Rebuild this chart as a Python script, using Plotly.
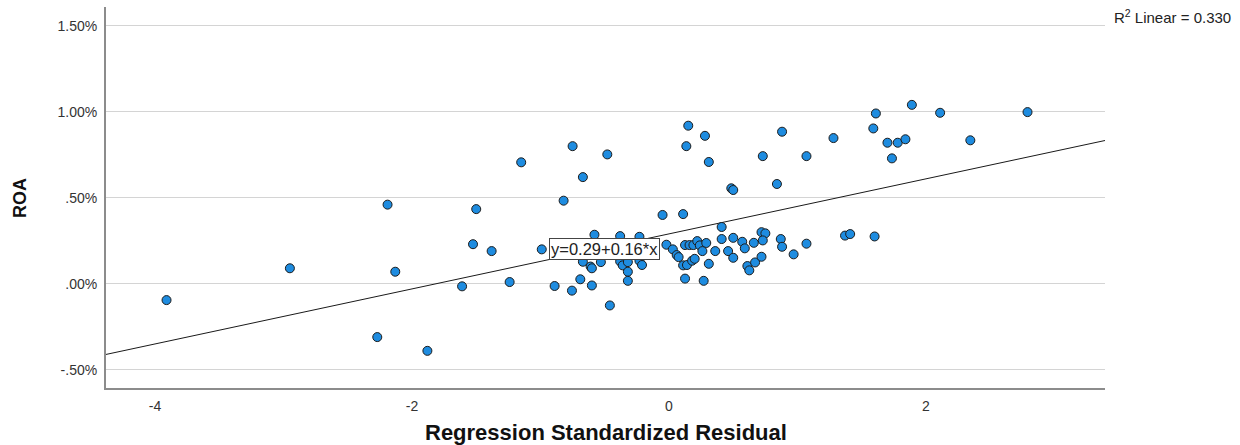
import plotly.graph_objects as go

# Regression Standardized Residual (x) vs ROA in % (y)
residual = [
    -3.91, -2.95, -2.27, -2.19, -2.13, -1.88, -1.61, -1.525, -1.50, -1.38,
    -1.24, -1.15, -0.99, -0.89, -0.82, -0.75, -0.755, -0.69, -0.67, -0.67,
    -0.61, -0.60, -0.60, -0.58, -0.53, -0.48, -0.46, -0.38, -0.38, -0.36,
    -0.32, -0.32, -0.32, -0.23, -0.23, -0.21, -0.05, -0.02, -0.45, -0.30,
    -0.12, 0.03, 0.06, 0.075, 0.11, 0.125, 0.11, 0.14, 0.125, 0.16,
    0.19, 0.22, 0.24, 0.29, 0.26, 0.18, 0.20, 0.135, 0.15, 0.27,
    0.28, 0.31, 0.31, 0.36, 0.41, 0.41, 0.46, 0.485, 0.50, 0.50,
    0.50, 0.57, 0.59, 0.61, 0.625, 0.66, 0.67, 0.72, 0.75, 0.73,
    0.72, 0.73, 0.84, 0.87, 0.88, 0.88, 0.97, 1.07, 1.07, 1.28,
    1.37, 1.41, 1.59, 1.61, 1.60, 1.70, 1.735, 1.78, 1.84, 1.89,
    2.11, 2.345, 2.79,
]
roa_pct = [
    -0.095, 0.09, -0.31, 0.46, 0.07, -0.39, -0.015, 0.23, 0.434, 0.19,
    0.01, 0.706, 0.20, -0.013, 0.483, 0.80, -0.04, 0.026, 0.62, 0.128,
    0.10, 0.09, -0.01, 0.285, 0.126, 0.752, -0.126, 0.277, 0.13, 0.107,
    0.126, 0.07, 0.017, 0.273, 0.134, 0.109, 0.40, 0.227, 0.21, 0.22,
    0.20, 0.20, 0.167, 0.155, 0.405, 0.03, 0.107, 0.109, 0.225, 0.225,
    0.225, 0.248, 0.223, 0.237, 0.19, 0.134, 0.145, 0.80, 0.919, 0.017,
    0.86, 0.708, 0.116, 0.19, 0.33, 0.26, 0.19, 0.555, 0.545, 0.267,
    0.151, 0.244, 0.206, 0.103, 0.078, 0.238, 0.124, 0.30, 0.293, 0.252,
    0.157, 0.742, 0.58, 0.26, 0.215, 0.884, 0.171, 0.233, 0.742, 0.847,
    0.28, 0.289, 0.903, 0.99, 0.275, 0.82, 0.729, 0.82, 0.84, 1.04,
    0.994, 0.834, 0.998,
]

fit_intercept = 0.29
fit_slope = 0.16
r_squared = 0.330

x_title = "Regression Standardized Residual"
y_title = "ROA"

x_range = [-4.381, 3.393]
y_range = [-0.606, 1.609]

y_tickvals = [-0.5, 0.0, 0.5, 1.0, 1.5]
y_ticktext = ["-.50%", ".00%", ".50%", "1.00%", "1.50%"]
x_tickvals = [-4, -2, 0, 2]
x_ticktext = ["-4", "-2", "0", "2"]

line_x = x_range
line_y = [fit_intercept + fit_slope * v for v in line_x]

fig = go.Figure()
fig.add_trace(go.Scatter(
    x=line_x, y=line_y, mode="lines",
    line=dict(color="#1a1a1a", width=1), hoverinfo="skip", showlegend=False,
))
fig.add_trace(go.Scatter(
    x=residual, y=roa_pct, mode="markers",
    marker=dict(size=9, color="#1e8ce0", line=dict(color="#1c1c1c", width=1)),
    showlegend=False,
))

fig.add_annotation(
    x=-0.50, y=0.20, xref="x", yref="y",
    text=f"y={fit_intercept:.2f}+{fit_slope:.2f}*x",
    showarrow=False, bgcolor="white", bordercolor="#444444", borderwidth=1,
    borderpad=1, font=dict(family="Liberation Sans, Arial", size=16.5, color="#222222"),
)
fig.add_annotation(
    x=1.0, y=1.0, xref="paper", yref="paper", xanchor="left", yanchor="middle",
    xshift=7, yshift=-9,
    text=f"R<sup>2</sup> Linear = {r_squared:.3f}", showarrow=False,
    font=dict(family="Liberation Sans, Arial", size=15, color="#222222"),
)
fig.add_annotation(
    x=0.5, y=-0.1155, xref="paper", yref="paper", xanchor="center", yanchor="middle",
    text=f"<b>{x_title}</b>", showarrow=False,
    font=dict(family="Liberation Sans, Arial", size=22, color="#111111"),
)
fig.add_annotation(
    x=-0.0861, y=0.4987, xref="paper", yref="paper", xanchor="center", yanchor="middle",
    text=f"<b>{y_title}</b>", showarrow=False, textangle=-90,
    font=dict(family="Liberation Sans, Arial", size=18, color="#111111"),
)

fig.update_layout(
    width=1240, height=445,
    margin=dict(l=106, r=135, t=7, b=57, autoexpand=False),
    paper_bgcolor="white", plot_bgcolor="white",
    font=dict(family="Liberation Sans, Arial", color="#222222"),
    xaxis=dict(
        range=x_range, tickvals=x_tickvals, ticktext=x_ticktext,
        showgrid=False, zeroline=False, showline=True, linecolor="#8c8c8c",
        linewidth=2, ticks="", ticklabelstandoff=4, automargin=False,
        tickfont=dict(size=14, color="#333333"),
    ),
    yaxis=dict(
        range=y_range, tickvals=y_tickvals, ticktext=y_ticktext,
        showgrid=True, gridcolor="#d4d4d4", gridwidth=1, zeroline=False,
        showline=True, linecolor="#8c8c8c", linewidth=2, ticks="",
        ticklabelstandoff=4, automargin=False,
        tickfont=dict(size=14, color="#333333"),
    ),
)

fig.write_html("out.html")
